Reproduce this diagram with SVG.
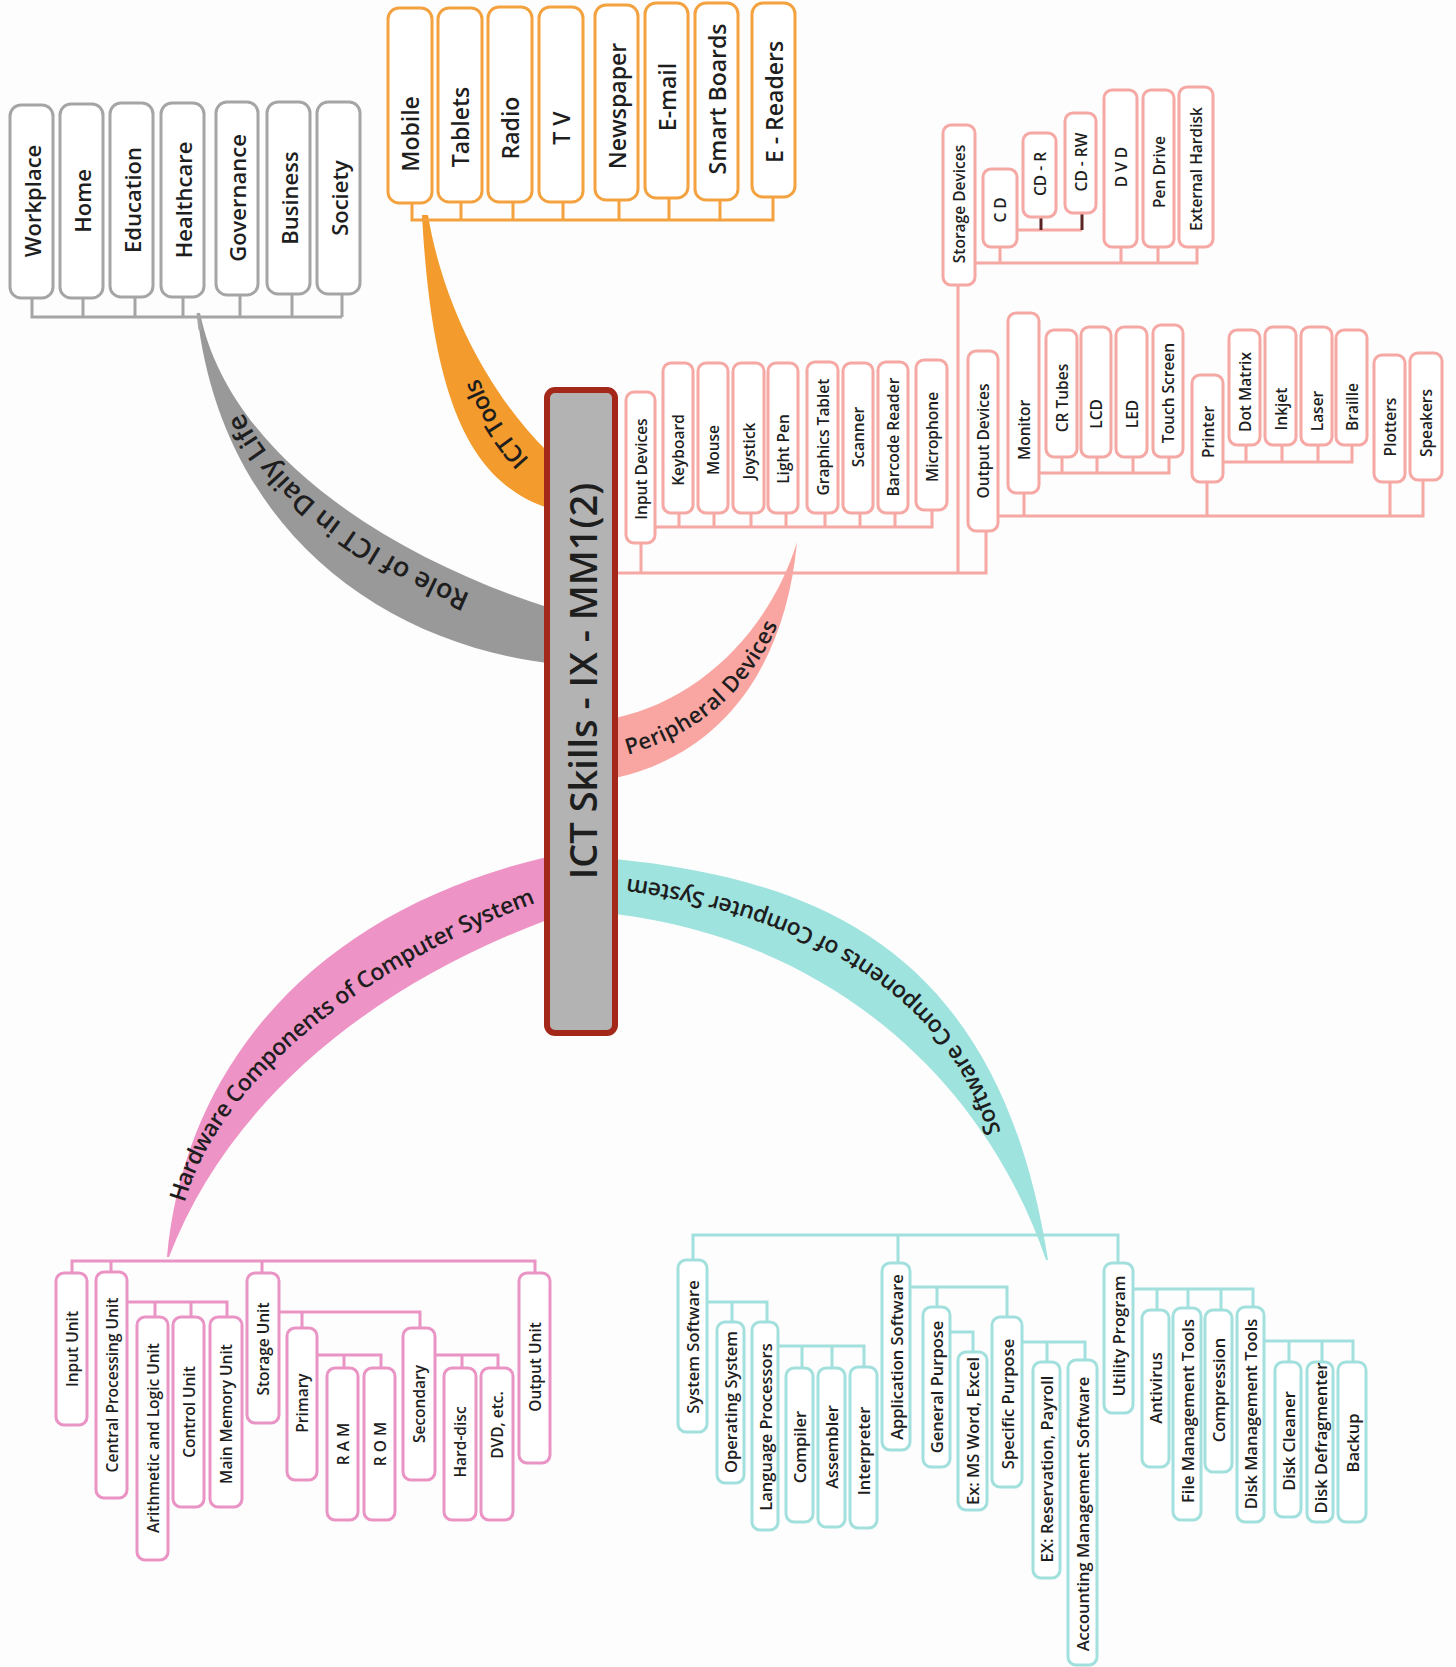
<svg xmlns="http://www.w3.org/2000/svg" width="1456" height="1667" viewBox="0 0 1456 1667">
<style>
text{font-family:"Open Sans","Liberation Sans",sans-serif;font-weight:600;fill:#1e1e1e;text-anchor:middle;dominant-baseline:central}
rect{fill:#fff;stroke-width:3}
.g rect{stroke:#a5a5a5}.g text{font-size:22px}
.o rect{stroke:#f3a23f}.o text{font-size:23px}
.p rect{stroke:#f5a8a4}.p text{font-size:15.5px}
.h rect{stroke:#ea93c5}.h text{font-size:15.5px}
.s rect{stroke:#a2e0dd}.s text{font-size:16.5px}
.ln{fill:none;stroke-width:3}
.lg{stroke:#a5a5a5}.lo{stroke:#f3a23f}.lp{stroke:#f5a8a4}.lh{stroke:#ea93c5}.ls{stroke:#a2e0dd}
.lab{dominant-baseline:central;text-anchor:start}
</style>
<rect x="0" y="0" width="1456" height="1667" style="fill:#fdfdfd;stroke:none"/>

<g id="branches">
  <path d="M200,313 C230,460 400,560 547,607 L547,663 C370,640 220,520 197,313 Z" fill="#999999"/>
  <path d="M428,215 C442,300 485,390 548,452 L548,508 C470,482 432,400 422,215 Z" fill="#f39b2c"/>
  <path d="M615,778 C720,755 785,670 797,542 C770,630 700,700 615,718 Z" fill="#f9a6a2"/>
  <path d="M167,1257 C185,1060 320,910 547,857 L547,920 C360,990 225,1110 169,1257 Z" fill="#ee93c6"/>
  <path d="M615,859 C820,880 1000,950 1048,1260 L1046,1260 C985,1080 830,940 615,914 Z" fill="#9fe3df"/>
  <path id="pg" d="M466,604 C380,568 262,500 226,400" fill="none"/>
  <path id="po" d="M522,466 C500,442 475,405 463,362" fill="none"/>
  <path id="pp" d="M625,746 C690,728 748,685 778,600" fill="none"/>
  <path id="ph" d="M176,1200 C210,1080 350,960 547,889" fill="none"/>
  <path id="ps" d="M992,1135 C950,990 800,905 598,884" fill="none"/>
  <text class="lab" style="font-size:27px"><textPath href="#pg" textLength="305">Role of ICT in Daily Life</textPath></text>
  <text class="lab" style="font-size:24px"><textPath href="#po" textLength="100">ICT Tools</textPath></text>
  <text class="lab" style="font-size:22px"><textPath href="#pp" textLength="198">Peripheral Devices</textPath></text>
  <text class="lab" style="font-size:23px"><textPath href="#ph" textLength="485">Hardware Components of Computer System</textPath></text>
  <text class="lab" style="font-size:23px"><textPath href="#ps" textLength="468">Software Components of Computer System</textPath></text>
</g>

<g id="connectors">
  <path class="ln lg" d="M32,298V317H342M83,298V317M135,297V317M183,297V317M240,295V317M292,294V317M342,294V317"/>
  <path class="ln lg" d="M198,313L200,330" stroke-width="2"/>
  <path class="ln lo" d="M412,203V220H773V197M461,202V220M513,202V220M563,202V220M619,200V220M669,198V220M720,200V220"/>
  <path class="ln lp" d="M613,573H986V531M641,543V573M958,573V285"/>
  <path class="ln lp" d="M655,527H932V510M679,513V527M714,513V527M751,513V527M786,513V527M825,513V527M860,513V527M895,513V527"/>
  <path class="ln lp" d="M975,263H1197V247M1000,247V263M1121,247V263M1158,247V263"/>
  <path class="ln lp" d="M1017,230H1082"/>
  <path class="ln" stroke="#5a2424" d="M1041,217V230M1082,213V230"/>
  <path class="ln lp" d="M998,516H1423V480M1024,493V516M1207,482V516M1390,482V516"/>
  <path class="ln lp" d="M1039,473H1169V457M1062,457V473M1097,457V473M1133,457V473"/>
  <path class="ln lp" d="M1223,462H1352V445M1246,445V462M1282,445V462M1318,445V462"/>
  <path class="ln lh" d="M72,1273V1261H535V1273M111,1261V1272M262,1261V1273"/>
  <path class="ln lh" d="M127,1302H227V1317M155,1302V1317M191,1302V1317"/>
  <path class="ln lh" d="M279,1312H420V1328M302,1312V1328"/>
  <path class="ln lh" d="M317,1355H381V1368M344,1355V1368"/>
  <path class="ln lh" d="M435,1355H498V1368M462,1355V1368"/>
  <path class="ln ls" d="M693,1260V1235H1118V1263M898,1235V1263"/>
  <path class="ln ls" d="M707,1302H767V1322M732,1302V1322"/>
  <path class="ln ls" d="M778,1346H864V1367M802,1346V1368M832,1346V1368"/>
  <path class="ln ls" d="M910,1287H1007V1317M937,1287V1307"/>
  <path class="ln ls" d="M950,1332H973V1352"/>
  <path class="ln ls" d="M1022,1342H1085V1360M1047,1342V1362"/>
  <path class="ln ls" d="M1133,1289H1253V1307M1157,1289V1310M1188,1289V1308M1221,1289V1310"/>
  <path class="ln ls" d="M1264,1341H1353V1362M1289,1341V1362M1322,1341V1362"/>
</g>

<g id="center">
  <rect x="547" y="390" width="68" height="643" rx="8" style="fill:#b3b3b3;stroke:#a3281a;stroke-width:6"/>
  <text transform="translate(582,681) rotate(-90)" style="font-size:38px">ICT Skills - IX - MM1(2)</text>
</g>

<g class="g">
  <g id="n-workplace"><rect x="10" y="105" width="43" height="193" rx="11"/><text transform="translate(31.5,201) rotate(-90)">Workplace</text></g>
  <g id="n-home"><rect x="60" y="104" width="43" height="194" rx="11"/><text transform="translate(81.5,201) rotate(-90)">Home</text></g>
  <g id="n-education"><rect x="110" y="103" width="43" height="194" rx="11"/><text transform="translate(131.5,200) rotate(-90)">Education</text></g>
  <g id="n-healthcare"><rect x="161" y="103" width="43" height="194" rx="11"/><text transform="translate(182.5,200) rotate(-90)">Healthcare</text></g>
  <g id="n-governance"><rect x="216" y="102" width="42" height="193" rx="11"/><text transform="translate(237,198) rotate(-90)">Governance</text></g>
  <g id="n-business"><rect x="267" y="102" width="43" height="192" rx="11"/><text transform="translate(288.5,198) rotate(-90)">Business</text></g>
  <g id="n-society"><rect x="317" y="102" width="43" height="192" rx="11"/><text transform="translate(338.5,198) rotate(-90)">Society</text></g>
</g>

<g class="o">
  <g id="n-mobile"><rect x="388" y="8" width="44" height="195" rx="11"/><text transform="translate(410,134) rotate(-90)">Mobile</text></g>
  <g id="n-tablets"><rect x="438" y="8" width="44" height="194" rx="11"/><text transform="translate(460,127) rotate(-90)">Tablets</text></g>
  <g id="n-radio"><rect x="488" y="7" width="44" height="195" rx="11"/><text transform="translate(510,128) rotate(-90)">Radio</text></g>
  <g id="n-tv"><rect x="539" y="7" width="44" height="195" rx="11"/><text transform="translate(561,128) rotate(-90)">T V</text></g>
  <g id="n-newspaper"><rect x="595" y="5" width="43" height="195" rx="11"/><text transform="translate(616.5,106) rotate(-90)">Newspaper</text></g>
  <g id="n-email"><rect x="645" y="3" width="43" height="195" rx="11"/><text transform="translate(666.5,97) rotate(-90)">E-mail</text></g>
  <g id="n-smartboards"><rect x="695" y="3" width="43" height="197" rx="11"/><text transform="translate(716.5,99) rotate(-90)">Smart Boards</text></g>
  <g id="n-ereaders"><rect x="752" y="3" width="43" height="194" rx="11"/><text transform="translate(773.5,102) rotate(-90)">E - Readers</text></g>
</g>

<g class="p">
  <g id="n-input-devices"><rect x="626" y="392" width="29" height="151" rx="8"/><text transform="translate(640.5,469) rotate(-90)">Input Devices</text></g>
  <g id="n-keyboard"><rect x="663" y="363" width="30" height="150" rx="8"/><text transform="translate(678,450) rotate(-90)">Keyboard</text></g>
  <g id="n-mouse"><rect x="698" y="363" width="30" height="150" rx="8"/><text transform="translate(713,450) rotate(-90)">Mouse</text></g>
  <g id="n-joystick"><rect x="733" y="363" width="31" height="150" rx="8"/><text transform="translate(748.5,451) rotate(-90)">Joystick</text></g>
  <g id="n-lightpen"><rect x="768" y="363" width="30" height="150" rx="8"/><text transform="translate(783,449) rotate(-90)">Light Pen</text></g>
  <g id="n-graphics"><rect x="807" y="362" width="31" height="151" rx="8"/><text transform="translate(822.5,437) rotate(-90)">Graphics Tablet</text></g>
  <g id="n-scanner"><rect x="843" y="363" width="30" height="150" rx="8"/><text transform="translate(858,437) rotate(-90)">Scanner</text></g>
  <g id="n-barcode"><rect x="878" y="362" width="30" height="151" rx="8"/><text transform="translate(893,437) rotate(-90)">Barcode Reader</text></g>
  <g id="n-microphone"><rect x="916" y="360" width="31" height="150" rx="8"/><text transform="translate(931.5,437) rotate(-90)">Microphone</text></g>
  <g id="n-output-devices"><rect x="968" y="351" width="30" height="180" rx="8"/><text transform="translate(983,441) rotate(-90)">Output Devices</text></g>
  <g id="n-storage-devices"><rect x="943" y="125" width="32" height="160" rx="8"/><text transform="translate(959,204) rotate(-90)">Storage Devices</text></g>
  <g id="n-cd"><rect x="983" y="169" width="34" height="78" rx="8"/><text transform="translate(1000,210) rotate(-90)">C D</text></g>
  <g id="n-cdr"><rect x="1023" y="133" width="33" height="84" rx="8"/><text transform="translate(1039.5,174) rotate(-90)">CD - R</text></g>
  <g id="n-cdrw"><rect x="1065" y="113" width="31" height="100" rx="8"/><text transform="translate(1080.5,162) rotate(-90)">CD - RW</text></g>
  <g id="n-dvd"><rect x="1104" y="90" width="33" height="157" rx="8"/><text transform="translate(1120.5,167) rotate(-90)">D V D</text></g>
  <g id="n-pendrive"><rect x="1143" y="90" width="31" height="157" rx="8"/><text transform="translate(1158.5,172) rotate(-90)">Pen Drive</text></g>
  <g id="n-exthd"><rect x="1179" y="87" width="34" height="160" rx="8"/><text transform="translate(1196,169) rotate(-90)">External Hardisk</text></g>
  <g id="n-monitor"><rect x="1008" y="313" width="31" height="180" rx="8"/><text transform="translate(1023.5,430) rotate(-90)">Monitor</text></g>
  <g id="n-crt"><rect x="1046" y="330" width="31" height="127" rx="8"/><text transform="translate(1061.5,398) rotate(-90)">CR Tubes</text></g>
  <g id="n-lcd"><rect x="1081" y="327" width="30" height="130" rx="8"/><text transform="translate(1096,414) rotate(-90)">LCD</text></g>
  <g id="n-led"><rect x="1116" y="327" width="31" height="130" rx="8"/><text transform="translate(1131.5,414) rotate(-90)">LED</text></g>
  <g id="n-touch"><rect x="1153" y="325" width="30" height="132" rx="8"/><text transform="translate(1168,393) rotate(-90)">Touch Screen</text></g>
  <g id="n-printer"><rect x="1192" y="375" width="31" height="107" rx="8"/><text transform="translate(1207.5,432) rotate(-90)">Printer</text></g>
  <g id="n-dotmatrix"><rect x="1229" y="330" width="31" height="115" rx="8"/><text transform="translate(1244.5,392) rotate(-90)">Dot Matrix</text></g>
  <g id="n-inkjet"><rect x="1265" y="327" width="31" height="118" rx="8"/><text transform="translate(1280.5,409) rotate(-90)">Inkjet</text></g>
  <g id="n-laser"><rect x="1301" y="327" width="31" height="118" rx="8"/><text transform="translate(1316.5,411) rotate(-90)">Laser</text></g>
  <g id="n-braille"><rect x="1336" y="330" width="31" height="115" rx="8"/><text transform="translate(1351.5,407) rotate(-90)">Braille</text></g>
  <g id="n-plotters"><rect x="1374" y="355" width="31" height="127" rx="8"/><text transform="translate(1389.5,427) rotate(-90)">Plotters</text></g>
  <g id="n-speakers"><rect x="1410" y="353" width="32" height="127" rx="8"/><text transform="translate(1426,423) rotate(-90)">Speakers</text></g>
</g>

<g class="h">
  <g id="n-input-unit"><rect x="56" y="1273" width="31" height="152" rx="8"/><text transform="translate(71.5,1349) rotate(-90)">Input Unit</text></g>
  <g id="n-cpu"><rect x="96" y="1272" width="31" height="226" rx="8"/><text transform="translate(111.5,1385) rotate(-90)">Central Processing Unit</text></g>
  <g id="n-alu"><rect x="137" y="1317" width="31" height="243" rx="8"/><text transform="translate(152.5,1438) rotate(-90)">Arithmetic and Logic Unit</text></g>
  <g id="n-cu"><rect x="173" y="1317" width="31" height="190" rx="8"/><text transform="translate(188.5,1412) rotate(-90)">Control Unit</text></g>
  <g id="n-mmu"><rect x="210" y="1317" width="32" height="190" rx="8"/><text transform="translate(226,1414) rotate(-90)">Main Memory Unit</text></g>
  <g id="n-storage-unit"><rect x="247" y="1273" width="32" height="150" rx="8"/><text transform="translate(263,1349) rotate(-90)">Storage Unit</text></g>
  <g id="n-primary"><rect x="287" y="1328" width="30" height="152" rx="8"/><text transform="translate(302,1403) rotate(-90)">Primary</text></g>
  <g id="n-ram"><rect x="327" y="1368" width="31" height="152" rx="8"/><text transform="translate(342.5,1444) rotate(-90)">R A M</text></g>
  <g id="n-rom"><rect x="364" y="1368" width="31" height="152" rx="8"/><text transform="translate(379.5,1444) rotate(-90)">R O M</text></g>
  <g id="n-secondary"><rect x="403" y="1328" width="32" height="152" rx="8"/><text transform="translate(419,1404) rotate(-90)">Secondary</text></g>
  <g id="n-harddisc"><rect x="444" y="1368" width="32" height="152" rx="8"/><text transform="translate(460,1442) rotate(-90)">Hard-disc</text></g>
  <g id="n-dvdetc"><rect x="481" y="1368" width="32" height="152" rx="8"/><text transform="translate(497,1425) rotate(-90)">DVD, etc.</text></g>
  <g id="n-output-unit"><rect x="519" y="1273" width="31" height="190" rx="8"/><text transform="translate(534.5,1367) rotate(-90)">Output Unit</text></g>
</g>

<g class="s">
  <g id="n-system-sw"><rect x="678" y="1260" width="29" height="172" rx="8"/><text transform="translate(692.5,1347) rotate(-90)">System Software</text></g>
  <g id="n-os"><rect x="717" y="1322" width="27" height="161" rx="8"/><text transform="translate(730.5,1402) rotate(-90)">Operating System</text></g>
  <g id="n-langproc"><rect x="752" y="1322" width="26" height="208" rx="8"/><text transform="translate(765,1427) rotate(-90)">Language Processors</text></g>
  <g id="n-compiler"><rect x="786" y="1368" width="27" height="154" rx="8"/><text transform="translate(799.5,1447) rotate(-90)">Compiler</text></g>
  <g id="n-assembler"><rect x="818" y="1368" width="27" height="159" rx="8"/><text transform="translate(831.5,1447) rotate(-90)">Assembler</text></g>
  <g id="n-interpreter"><rect x="850" y="1367" width="27" height="161" rx="8"/><text transform="translate(863.5,1451) rotate(-90)">Interpreter</text></g>
  <g id="n-app-sw"><rect x="882" y="1263" width="28" height="187" rx="8"/><text transform="translate(896,1357) rotate(-90)">Application Software</text></g>
  <g id="n-general"><rect x="923" y="1307" width="27" height="160" rx="8"/><text transform="translate(936.5,1387) rotate(-90)">General Purpose</text></g>
  <g id="n-msword"><rect x="958" y="1352" width="29" height="158" rx="8"/><text transform="translate(972.5,1431) rotate(-90)">Ex: MS Word, Excel</text></g>
  <g id="n-specific"><rect x="992" y="1317" width="30" height="170" rx="8"/><text transform="translate(1007,1404) rotate(-90)">Specific Purpose</text></g>
  <g id="n-reservation"><rect x="1033" y="1362" width="27" height="216" rx="8"/><text transform="translate(1046.5,1469) rotate(-90)">EX: Reservation, Payroll</text></g>
  <g id="n-accounting"><rect x="1068" y="1360" width="29" height="305" rx="8"/><text transform="translate(1082.5,1514) rotate(-90)">Accounting Management Software</text></g>
  <g id="n-utility"><rect x="1104" y="1263" width="29" height="150" rx="8"/><text transform="translate(1118.5,1336) rotate(-90)">Utility Program</text></g>
  <g id="n-antivirus"><rect x="1142" y="1310" width="27" height="157" rx="8"/><text transform="translate(1155.5,1388) rotate(-90)">Antivirus</text></g>
  <g id="n-filemgmt"><rect x="1173" y="1308" width="28" height="212" rx="8"/><text transform="translate(1187,1411) rotate(-90)">File Management Tools</text></g>
  <g id="n-compression"><rect x="1205" y="1310" width="27" height="162" rx="8"/><text transform="translate(1218.5,1390) rotate(-90)">Compression</text></g>
  <g id="n-diskmgmt"><rect x="1237" y="1307" width="27" height="215" rx="8"/><text transform="translate(1250.5,1414) rotate(-90)">Disk Management Tools</text></g>
  <g id="n-diskclean"><rect x="1275" y="1362" width="26" height="155" rx="8"/><text transform="translate(1288,1441) rotate(-90)">Disk Cleaner</text></g>
  <g id="n-defrag"><rect x="1307" y="1362" width="26" height="160" rx="8"/><text transform="translate(1320,1438) rotate(-90)">Disk Defragmenter</text></g>
  <g id="n-backup"><rect x="1338" y="1362" width="28" height="160" rx="8"/><text transform="translate(1352,1443) rotate(-90)">Backup</text></g>
</g>
</svg>
